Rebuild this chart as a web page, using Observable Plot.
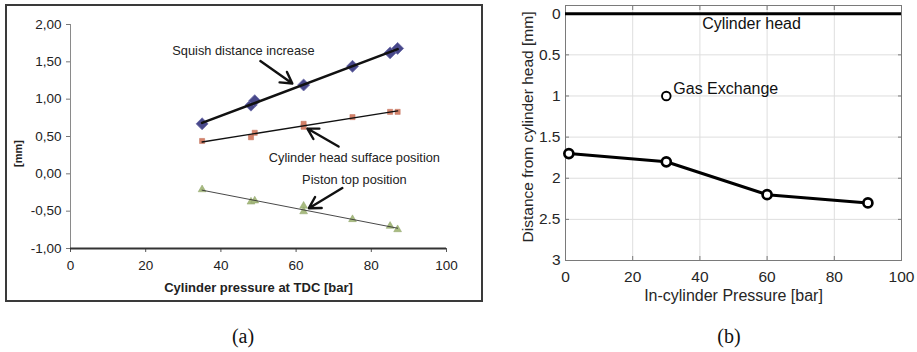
<!DOCTYPE html>
<html>
<head>
<meta charset="utf-8">
<script src="https://cdn.jsdelivr.net/npm/d3@7"></script>
<script src="https://cdn.jsdelivr.net/npm/@observablehq/plot@0.6"></script>
<style>
  html, body { margin: 0; padding: 0; background: #fff; }
  #root { position: relative; width: 917px; height: 352px; background: #fff; overflow: hidden; }
  #panelA { position: absolute; left: 5px; top: 4px; width: 478px; height: 298px; border: 2px solid #3a3a3a; box-sizing: border-box; }
  #panelB { position: absolute; left: 470px; top: 0px; }
  .cap { position: absolute; top: 325px; font-family: "Liberation Serif", "Times New Roman", serif; font-size: 20px; color: #111; transform: translateX(-50%); }
  svg { display: block; }
</style>
</head>
<body>
<div id="root">
  <div id="panelA"></div>
  <div id="panelB"></div>
  <div class="cap" style="left:243px">(a)</div>
  <div class="cap" style="left:729px">(b)</div>
</div>
<script>
// ---- (a) deformation vs. cylinder pressure at TDC ----
const squishP = [35, 48, 49, 62, 75, 85, 87];
const squishMm = [0.67, 0.92, 0.98, 1.19, 1.44, 1.62, 1.68];
const headP = [35, 48, 49, 62, 62, 75, 85, 87];
const headMm = [0.44, 0.49, 0.55, 0.67, 0.63, 0.76, 0.83, 0.83];
const pistonP = [35, 48, 49, 62, 62, 75, 85, 87];
const pistonMm = [-0.21, -0.375, -0.36, -0.43, -0.505, -0.61, -0.70, -0.745];
const xTicksA = [0, 20, 40, 60, 80, 100];
const yTicksA = [-1, -0.5, 0, 0.5, 1, 1.5, 2];
const noteLabels = ["Squish distance increase", "Cylinder head sufface position", "Piston top position"];
const noteTextP = [46, 75.5, 75.5];
const noteTextMm = [1.65, 0.215, -0.08];
const arrowFromP = [50.5, 71.3, 72.3];
const arrowFromMm = [1.51, 0.365, -0.19];
const arrowToP = [59, 63, 63.4];
const arrowToMm = [1.21, 0.606, -0.46];

// ---- (b) piston position vs. in-cylinder pressure ----
const pressureB = [1, 30, 60, 90];
const distanceB = [1.7, 1.8, 2.2, 2.3];
const gasExchangeP = [30];
const gasExchangeMm = [1.0];
const headLevel = [0];
const xTicksB = [0, 20, 40, 60, 80, 100];
const yTicksB = [0, 0.5, 1, 1.5, 2, 2.5, 3];

const zip = (xs, ys) => xs.map((x, i) => ({x, y: ys[i]}));
const squish = zip(squishP, squishMm);
const head = zip(headP, headMm);
const piston = zip(pistonP, pistonMm);
const notes = noteLabels.map((label, i) => ({
  label, tx: noteTextP[i], ty: noteTextMm[i],
  x1: arrowFromP[i], y1: arrowFromMm[i], x2: arrowToP[i], y2: arrowToMm[i]
}));
const commaFmt = d => d.toFixed(2).replace(".", ",");
const sans = "'Liberation Sans', Arial, Helvetica, sans-serif";

const chartA = Plot.plot({
  width: 474, height: 294,
  marginLeft: 63, marginRight: 35, marginTop: 18, marginBottom: 52,
  style: {fontFamily: sans, fontSize: "13.5px", color: "#222", background: "transparent"},
  x: {domain: [0, 100], label: null},
  y: {domain: [-1, 2], label: null},
  marks: [
    Plot.ruleX([0], {stroke: "#8a8a8a", strokeWidth: 1}),
    Plot.axisY({ticks: yTicksA, tickSize: 4, tickPadding: 5, tickFormat: commaFmt, label: null, stroke: "#777"}),
    Plot.axisX({ticks: xTicksA, tickSize: 4, tickPadding: 8, label: null, stroke: "#555"}),
    Plot.ruleY([-1], {stroke: "#333", strokeWidth: 2}),
    Plot.dot(squish, {x: "x", y: "y", symbol: "diamond2", r: 5.4, fill: "#48488a", stroke: "#6e6eaa", strokeWidth: 0.8}),
    Plot.dot(head, {x: "x", y: "y", symbol: "square", r: 2.9, fill: "#d5826a", stroke: "#c0705a", strokeWidth: 0.5}),
    Plot.dot(piston, {x: "x", y: "y", symbol: "triangle", r: 2.9, fill: "#a8bb80", stroke: "#8fa468", strokeWidth: 0.5}),
    Plot.linearRegressionY(squish, {x: "x", y: "y", ci: 0, stroke: "#111", strokeWidth: 2.6}),
    Plot.linearRegressionY(head, {x: "x", y: "y", ci: 0, stroke: "#111", strokeWidth: 1.4}),
    Plot.linearRegressionY(piston, {x: "x", y: "y", ci: 0, stroke: "#333", strokeWidth: 0.9}),
    Plot.arrow(notes, {x1: "x1", y1: "y1", x2: "x2", y2: "y2", stroke: "#111", strokeWidth: 2.4, headLength: 8}),
    Plot.text(notes, {x: "tx", y: "ty", text: "label", fontSize: 12.8, fill: "#222"}),
    Plot.text(["[mm]"], {frameAnchor: "left", textAnchor: "middle", dx: -52, dy: 17, rotate: -90, fontSize: 11, fontWeight: "bold", fill: "#222"}),
    Plot.text(["Cylinder pressure at TDC [bar]"], {frameAnchor: "bottom", lineAnchor: "middle", dy: 39, fontSize: 13, fontWeight: "bold", fill: "#222"})
  ]
});
document.getElementById("panelA").append(chartA);

const chartB = Plot.plot({
  width: 447, height: 310,
  marginLeft: 95, marginRight: 16, marginTop: 5, marginBottom: 50,
  style: {fontFamily: sans, fontSize: "15.5px", color: "#262626", background: "transparent"},
  x: {domain: [0, 100], label: null},
  y: {domain: [-0.1, 3], reverse: true, label: null},
  marks: [
    Plot.gridX(xTicksB, {stroke: "#dedede", strokeOpacity: 1}),
    Plot.gridY(yTicksB, {stroke: "#dedede", strokeOpacity: 1}),
    Plot.frame({stroke: "#7a7a7a"}),
    Plot.axisX({ticks: xTicksB, tickSize: -4, tickPadding: 14, tickFormat: d => String(d), label: null, stroke: "#7a7a7a"}),
    Plot.axisY({ticks: yTicksB, tickSize: -4, tickPadding: 9, tickFormat: d => String(d), label: null, stroke: "#7a7a7a"}),
    Plot.axisX({anchor: "top", ticks: xTicksB, tickSize: -4, tickFormat: () => "", label: null, stroke: "#7a7a7a"}),
    Plot.axisY({anchor: "right", ticks: yTicksB, tickSize: -4, tickFormat: () => "", label: null, stroke: "#7a7a7a"}),
    Plot.ruleY(headLevel, {stroke: "#000", strokeWidth: 3}),
    Plot.text(["Cylinder head"], {frameAnchor: "top", lineAnchor: "middle", dx: 18, dy: 18, fontSize: 16, fill: "#111"}),
    Plot.line(zip(pressureB, distanceB), {x: "x", y: "y", stroke: "#000", strokeWidth: 3}),
    Plot.dot(zip(pressureB, distanceB), {x: "x", y: "y", r: 4.5, fill: "#fff", stroke: "#000", strokeWidth: 2.7}),
    Plot.dot(zip(gasExchangeP, gasExchangeMm), {x: "x", y: "y", r: 4.3, fill: "#fff", stroke: "#000", strokeWidth: 1.9}),
    Plot.text(zip(gasExchangeP, gasExchangeMm), {x: "x", y: "y", text: () => "Gas Exchange", textAnchor: "start", dx: 7, dy: -7, fontSize: 16, fill: "#111"}),
    Plot.text(["Distance from cylinder head [mm]"], {frameAnchor: "left", textAnchor: "middle", dx: -37, dy: -6, rotate: -90, fontSize: 15.5, fill: "#262626"}),
    Plot.text(["In-cylinder Pressure [bar]"], {frameAnchor: "bottom", lineAnchor: "middle", dy: 35, fontSize: 16, fill: "#262626"})
  ]
});
document.getElementById("panelB").append(chartB);
</script>
</body>
</html>
